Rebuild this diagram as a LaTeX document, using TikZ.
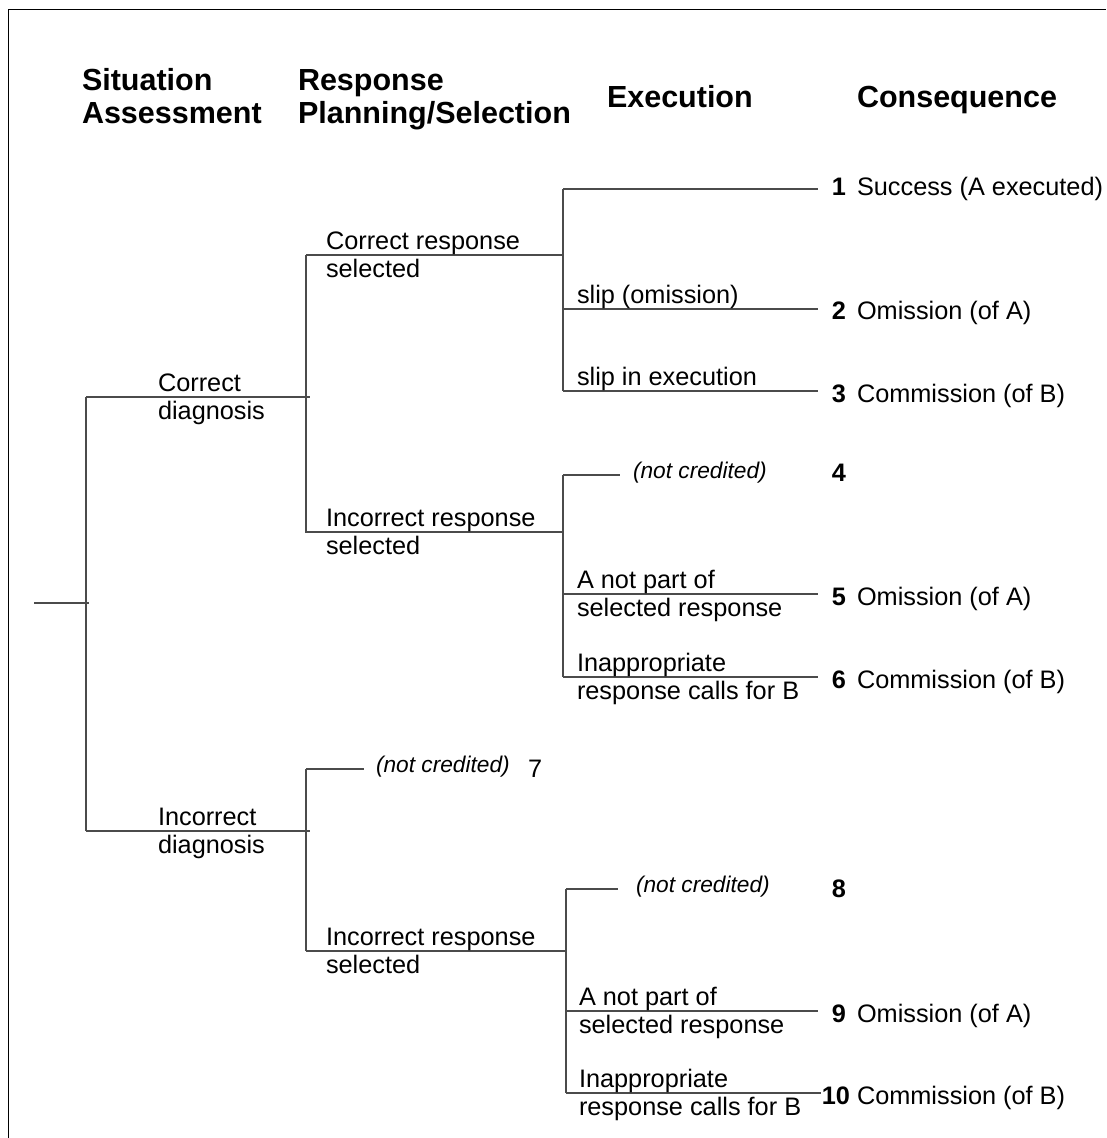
\documentclass[tikz,border=0pt]{standalone}
\usepackage{fontspec}
\setmainfont{Liberation Sans}
\newcommand{\bodyf}{\fontsize{25.3}{28}\selectfont}
\newcommand{\headf}{\fontsize{30.5}{33}\selectfont\bfseries}
\newcommand{\itf}{\fontsize{22.7}{25}\selectfont\itshape}
\definecolor{treegray}{RGB}{75,75,75}
\begin{document}
\begin{tikzpicture}[x=1pt,y=-1pt,
  lbl/.style={anchor=base west,inner sep=0pt,outer sep=0pt,font=\bodyf},
  hd/.style={anchor=base west,inner sep=0pt,outer sep=0pt,font=\headf},
  nc/.style={anchor=base west,inner sep=0pt,outer sep=0pt,font=\itf},
  num/.style={anchor=base east,inner sep=0pt,outer sep=0pt,font=\bodyf\bfseries},
  cons/.style={anchor=base west,inner sep=0pt,outer sep=0pt,font=\bodyf},
  tree/.style={draw=treegray,line width=1.1pt},
  frame/.style={draw=black,line width=1.5pt}]
\useasboundingbox (0,0) rectangle (1106,1138);
\fill[white] (0,0) rectangle (1106,1138);
% frame
\coordinate (fb) at (8.5,1138);
\coordinate (fc) at (8.5,9.5);
\coordinate (fr) at (1106,9.5);
\draw[frame] (fb) -- (fc) -- (fr);

% headers
\node[hd] (h1a) at (82,90) {Situation};
\node[hd] (h1b) at (82,123) {Assessment};
\node[hd] (h2a) at (298,90) {Response};
\node[hd] (h2b) at (298,123) {Planning/Selection};
\node[hd] (h3) at (607,107) {Execution};
\node[hd] (h4) at (857,107) {Consequence};

% coordinates of the tree
\coordinate (r0) at (34,603);
\coordinate (r1) at (89,603);
\coordinate (a0) at (86,397);
\coordinate (a1) at (86,831);
\coordinate (cdE) at (310,397);
\coordinate (idE) at (310,831);
\coordinate (b0) at (306,255);
\coordinate (b1) at (306,533);
\coordinate (b1h) at (306,532);
\coordinate (crsE) at (563,255);
\coordinate (irsE) at (563,532);
\coordinate (c0) at (563,189);
\coordinate (c2) at (563,309);
\coordinate (c3) at (563,391);
\coordinate (e1) at (818,189);
\coordinate (e2) at (818,309);
\coordinate (e3) at (818,391);
\coordinate (d4) at (563,475);
\coordinate (d5) at (563,594);
\coordinate (d6) at (563,677);
\coordinate (e4) at (620,475);
\coordinate (e5) at (818,594);
\coordinate (e6) at (818,677);
\coordinate (g7) at (306,769);
\coordinate (g9) at (306,951);
\coordinate (e7) at (364,769);
\coordinate (irs2E) at (566,951);
\coordinate (k8) at (566,889);
\coordinate (k9) at (566,1011);
\coordinate (k10) at (566,1093);
\coordinate (e8) at (618,889);
\coordinate (e9) at (818,1011);
\coordinate (e10) at (821,1093);

% tree lines
\draw[tree] (r0) -- (r1);
\draw[tree] (a0) -- (a1);
\draw[tree] (a0) -- (cdE);
\draw[tree] (a1) -- (idE);
\draw[tree] (b0) -- (b1);
\draw[tree] (b0) -- (crsE);
\draw[tree] (b1h) -- (irsE);
\draw[tree] (c0) -- (c3);
\draw[tree] (c0) -- (e1);
\draw[tree] (c2) -- (e2);
\draw[tree] (c3) -- (e3);
\draw[tree] (d4) -- (d6);
\draw[tree] (d4) -- (e4);
\draw[tree] (d5) -- (e5);
\draw[tree] (d6) -- (e6);
\draw[tree] (g7) -- (g9);
\draw[tree] (g7) -- (e7);
\draw[tree] (g9) -- (irs2E);
\draw[tree] (k8) -- (k10);
\draw[tree] (k8) -- (e8);
\draw[tree] (k9) -- (e9);
\draw[tree] (k10) -- (e10);

% situation assessment labels
\node[lbl] (cda) at (158,391) {Correct};
\node[lbl] (cdb) at (158,419) {diagnosis};
\node[lbl] (ida) at (158,825) {Incorrect};
\node[lbl] (idb) at (158,853) {diagnosis};

% response labels
\node[lbl] (crsa) at (326,249) {Correct response};
\node[lbl] (crsb) at (326,277) {selected};
\node[lbl] (irsa) at (326,526) {Incorrect response};
\node[lbl] (irsb) at (326,554) {selected};
\node[lbl] (irs2a) at (326,945) {Incorrect response};
\node[lbl] (irs2b) at (326,973) {selected};

% execution labels
\node[lbl] (x2) at (577,303) {slip (omission)};
\node[lbl] (x3) at (577,385) {slip in execution};
\node[nc] (x4) at (633,478) {(not credited)};
\node[lbl] (x5a) at (577,588) {A not part of};
\node[lbl] (x5b) at (577,616) {selected response};
\node[lbl] (x6a) at (577,671) {Inappropriate};
\node[lbl] (x6b) at (577,699) {response calls for B};
\node[nc] (x7) at (376,772) {(not credited)};
\node[lbl] (n7) at (528,777) {7};
\node[nc] (x8) at (636,892) {(not credited)};
\node[lbl] (x9a) at (579,1005) {A not part of};
\node[lbl] (x9b) at (579,1033) {selected response};
\node[lbl] (x10a) at (579,1087) {Inappropriate};
\node[lbl] (x10b) at (579,1115) {response calls for B};

% consequences
\node[num] (n1) at (846,195) {1};
\node[cons] (t1) at (857,195) {Success (A executed)};
\node[num] (n2) at (846,319) {2};
\node[cons] (t2) at (857,319) {Omission (of A)};
\node[num] (n3) at (846,402) {3};
\node[cons] (t3) at (857,402) {Commission (of B)};
\node[num] (n4) at (846,481) {4};
\node[num] (n5) at (846,605) {5};
\node[cons] (t5) at (857,605) {Omission (of A)};
\node[num] (n6) at (846,688) {6};
\node[cons] (t6) at (857,688) {Commission (of B)};
\node[num] (n8) at (846,897) {8};
\node[num] (n9) at (846,1022) {9};
\node[cons] (t9) at (857,1022) {Omission (of A)};
\node[num] (n10) at (850,1104) {10};
\node[cons] (t10) at (857,1104) {Commission (of B)};
\end{tikzpicture}
\end{document}
